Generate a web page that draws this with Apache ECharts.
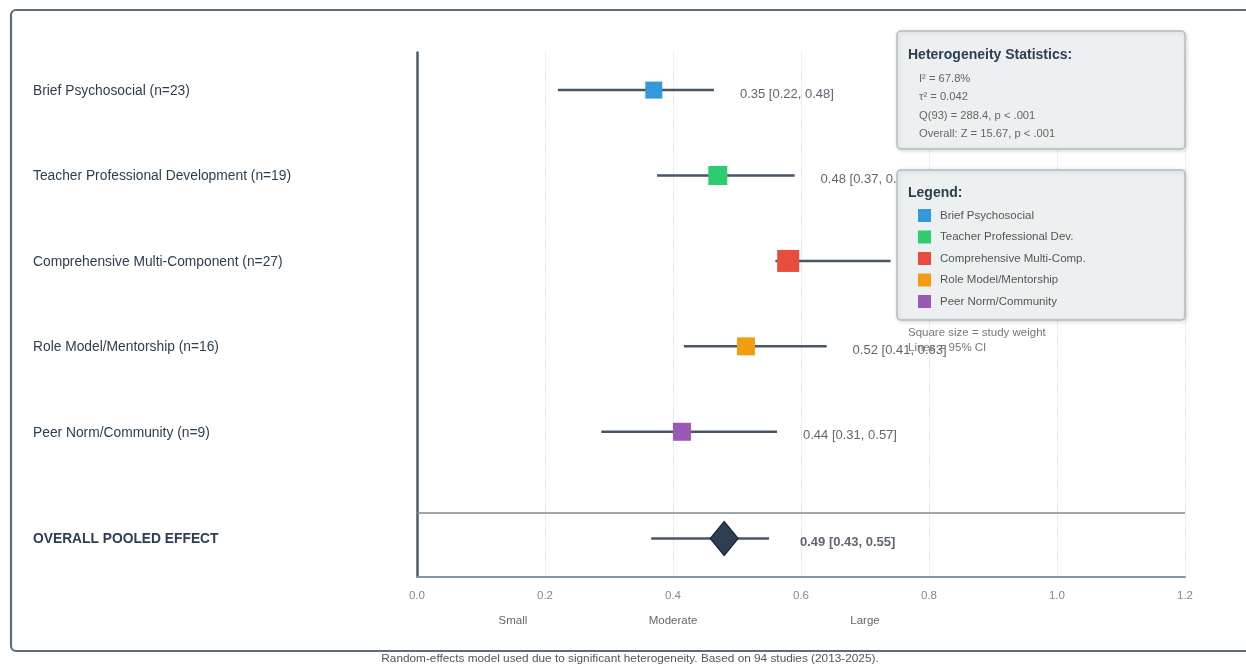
<!DOCTYPE html>
<html>
<head>
<meta charset="utf-8">
<script src="https://cdn.jsdelivr.net/npm/echarts@6/dist/echarts.min.js"></script>
<style>
html,body{margin:0;padding:0;background:#fff;}
#c{width:1246px;height:666px;}
</style>
</head>
<body>
<div id="c"></div>
<script>
// ---------------- DATA ----------------
const categories = [
  'Brief Psychosocial (n=23)',
  'Teacher Professional Development (n=19)',
  'Comprehensive Multi-Component (n=27)',
  'Role Model/Mentorship (n=16)',
  'Peer Norm/Community (n=9)'
];
const legendNames = [
  'Brief Psychosocial',
  'Teacher Professional Dev.',
  'Comprehensive Multi-Comp.',
  'Role Model/Mentorship',
  'Peer Norm/Community'
];
const effect = [0.37, 0.47, 0.58, 0.514, 0.414];
const ciLow = [0.22, 0.375, 0.56, 0.417, 0.288];
const ciHigh = [0.464, 0.59, 0.74, 0.64, 0.5625];
const studyWeight = [17, 19, 22, 18, 18];
const effectLabels = [
  '0.35 [0.22, 0.48]',
  '0.48 [0.37, 0.59]',
  '0.58 [0.45, 0.72]',
  '0.52 [0.41, 0.63]',
  '0.44 [0.31, 0.57]'
];
const overallName = 'OVERALL POOLED EFFECT';
const overallEffect = [0.48];
const overallLow = [0.366];
const overallHigh = [0.55];
const overallText = ['0.49 [0.43, 0.55]'];
const xTickLabels = ['0.0', '0.2', '0.4', '0.6', '0.8', '1.0', '1.2'];
const bandLabels = ['Small', 'Moderate', 'Large'];
const bandPos = [0.15, 0.40, 0.70];
const hetTitle = 'Heterogeneity Statistics:';
const hetStats = ['I² = 67.8%', 'τ² = 0.042', 'Q(93) = 288.4, p < .001', 'Overall: Z = 15.67, p < .001'];
const legendTitle = 'Legend:';
const notes = ['Square size = study weight', 'Lines = 95% CI'];
const footnote = 'Random-effects model used due to significant heterogeneity. Based on 94 studies (2013-2025).';

// ---------------- LAYOUT / STYLE ----------------
const FONT = '"Liberation Sans", Arial, sans-serif';
const colors = ['#3498db', '#2ecc71', '#e74c3c', '#f39c12', '#9b59b6'];
const Y_MIN = -0.7, Y_MAX = 5.44;
const OVERALL_Y = -0.25, SEP_Y = 0.05;
const rowY = i => categories.length - i;
const SQ_MAX = 22;
const maxW = Math.max(...studyWeight);

const chart = echarts.init(document.getElementById('c'), null, {renderer: 'canvas'});

const series = [];

// CI lines
series.push({
  type: 'custom',
  silent: true,
  z: 2,
  clip: false,
  encode: {x: [0, 1], y: 2},
  data: categories.map((c, i) => [ciLow[i], ciHigh[i], rowY(i)])
    .concat([[overallLow[0], overallHigh[0], OVERALL_Y]]),
  renderItem: (params, api) => {
    const a = api.coord([api.value(0), api.value(2)]);
    const b = api.coord([api.value(1), api.value(2)]);
    return {
      type: 'line',
      shape: {x1: a[0], y1: a[1], x2: b[0], y2: b[1]},
      style: {stroke: '#475666', lineWidth: 2.5}
    };
  }
});

// Squares (one series per category, for the legend)
categories.forEach((c, i) => {
  series.push({
    type: 'scatter',
    name: legendNames[i],
    symbol: 'rect',
    symbolSize: SQ_MAX * studyWeight[i] / maxW,
    itemStyle: {color: colors[i], opacity: 1},
    silent: true,
    z: 3,
    data: [[effect[i], rowY(i)]]
  });
});

// Overall diamond + separator line
series.push({
  type: 'scatter',
  symbol: 'diamond',
  symbolSize: [28, 34],
  itemStyle: {color: '#2c3e50', borderColor: '#1b2631', borderWidth: 1.2, opacity: 1},
  silent: true,
  z: 3,
  data: [[overallEffect[0], OVERALL_Y]],
  markLine: {
    silent: true,
    symbol: 'none',
    label: {show: false},
    lineStyle: {color: '#7f8c8d', width: 1.5, type: 'solid'},
    data: [{yAxis: SEP_Y}]
  }
});

// Value labels to the right of each CI line
series.push({
  type: 'scatter',
  symbolSize: 0,
  silent: true,
  z: 4,
  data: categories.map((c, i) => ({name: effectLabels[i], value: [ciHigh[i], rowY(i)]}))
    .concat([{name: overallText[0], value: [overallHigh[0], OVERALL_Y],
      label: {fontWeight: 'bold', distance: 31}}]),
  label: {
    show: true,
    position: 'right',
    distance: 26,
    offset: [0, 4],
    formatter: '{b}',
    fontSize: 13,
    fontFamily: FONT,
    color: '#34404c'
  }
});

// Row labels on the left
series.push({
  type: 'custom',
  silent: true,
  clip: false,
  z: 4,
  encode: {x: 0, y: 1},
  data: categories.map((c, i) => ({name: c, value: [0, rowY(i)]}))
    .concat([{name: overallName, value: [0, OVERALL_Y]}]),
  renderItem: (params, api) => {
    const p = api.coord([api.value(0), api.value(1)]);
    const isOverall = params.dataIndex === categories.length;
    return {
      type: 'text',
      x: 33,
      y: p[1] + 1,
      style: {
        text: isOverall ? overallName : categories[params.dataIndex],
        fill: '#2c3e50',
        fontSize: 13.8,
        fontWeight: isOverall ? 'bold' : 'normal',
        fontFamily: FONT,
        align: 'left',
        verticalAlign: 'middle'
      }
    };
  }
});

// Effect-size band labels under the axis
series.push({
  type: 'custom',
  silent: true,
  clip: false,
  z: 4,
  encode: {x: 0, y: 1},
  data: bandPos.map((x, i) => [x, Y_MIN]),
  renderItem: (params, api) => {
    const p = api.coord([api.value(0), api.value(1)]);
    return {
      type: 'text',
      x: p[0],
      y: p[1] + 44,
      style: {
        text: bandLabels[params.dataIndex],
        fill: '#666',
        fontSize: 11.5,
        fontFamily: FONT,
        align: 'center',
        verticalAlign: 'middle'
      }
    };
  }
});

const txt = (x, y, text, opts) => Object.assign({
  type: 'text', z: 101, x: x, y: y,
  style: Object.assign({text: text, fontFamily: FONT, verticalAlign: 'middle', align: 'left'}, opts)
});

const graphics = [
  {type: 'rect', z: -10, shape: {x: 11, y: 10, width: 1300, height: 641, r: 5},
    style: {fill: '#fff', stroke: '#5d6d7e', lineWidth: 2.2}},
  {type: 'rect', z: 100, shape: {x: 897, y: 31, width: 288, height: 118, r: 4},
    style: {fill: '#ecf0f1', stroke: '#b3bcc3', lineWidth: 1.5,
      shadowBlur: 4, shadowColor: 'rgba(0,0,0,0.15)', shadowOffsetX: 1, shadowOffsetY: 1}},
  txt(908, 55, hetTitle, {fontSize: 14, fontWeight: 'bold', fill: '#2c3e50'}),
  {type: 'rect', z: 100, shape: {x: 897, y: 170, width: 288, height: 150, r: 4},
    style: {fill: '#ecf0f1', stroke: '#b3bcc3', lineWidth: 1.5,
      shadowBlur: 4, shadowColor: 'rgba(0,0,0,0.15)', shadowOffsetX: 1, shadowOffsetY: 1}},
  txt(908, 193, legendTitle, {fontSize: 14, fontWeight: 'bold', fill: '#2c3e50'}),
  txt(630, 659, footnote, {fontSize: 11.8, fill: '#555', align: 'center'})
];
hetStats.forEach((s, i) => graphics.push(txt(919, 78.5 + i * 18.6, s, {fontSize: 11.2, fill: '#666'})));
notes.forEach((s, i) => graphics.push(txt(908, 333 + i * 15, s, {fontSize: 11.5, fill: '#777'})));

chart.setOption({
  animation: false,
  backgroundColor: '#fff',
  textStyle: {fontFamily: FONT},
  grid: {left: 417, right: 61, top: 52.5, bottom: 89, containLabel: false},
  xAxis: {
    type: 'value',
    min: 0, max: 1.2, interval: 0.2,
    axisLine: {show: true, onZero: false, lineStyle: {color: '#8795a1', width: 2}},
    axisTick: {show: false},
    axisLabel: {
      margin: 13, fontSize: 11.5, color: '#888', fontFamily: FONT,
      formatter: (v) => xTickLabels[Math.round(v / 0.2)]
    },
    splitLine: {show: true, lineStyle: {type: 'dotted', color: '#dcdcdc', width: 1.2}}
  },
  yAxis: {
    type: 'value',
    min: Y_MIN, max: Y_MAX,
    axisLine: {show: true, onZero: false, lineStyle: {color: '#4f5d6b', width: 2.5}},
    axisTick: {show: false},
    axisLabel: {show: false},
    splitLine: {show: false}
  },
  legend: {
    data: legendNames,
    orient: 'vertical',
    left: 918, top: 209,
    itemWidth: 13, itemHeight: 13, itemGap: 8.5,
    icon: 'rect',
    selectedMode: false,
    padding: 0,
    z: 120,
    textStyle: {fontSize: 11.5, color: '#555', fontFamily: FONT, lineHeight: 13, padding: [0, 0, 0, 4]}
  },
  graphic: graphics,
  series: series
});
</script>
</body>
</html>
